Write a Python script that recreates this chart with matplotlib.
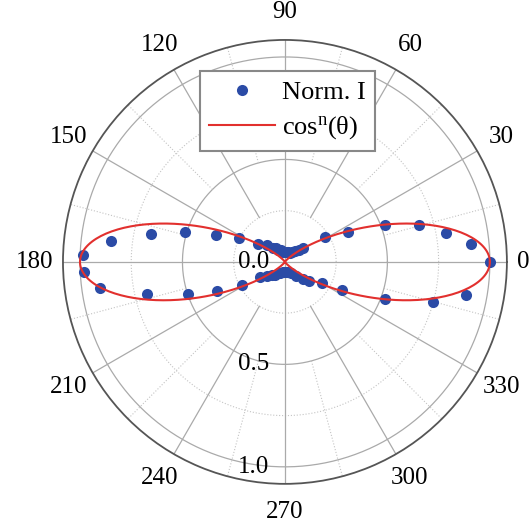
import numpy as np
import matplotlib
matplotlib.use("Agg")
import matplotlib.pyplot as plt
from matplotlib.ticker import FixedLocator
from matplotlib.transforms import offset_copy

plt.rcParams['font.family'] = ['Liberation Serif', 'DejaVu Serif']
plt.rcParams['mathtext.default'] = 'regular'

# measured points (angle in degrees, normalised intensity)
angle_deg = [0, 5.5, 10.1, 15.4, 20.3, 25.5, 32.0, 36.8,
             42, 48, 55, 62, 70, 80, 90, 99, 108, 119, 125, 132, 138,
             146, 152.7, 158.4, 163.3, 168.2, 173.1, 178,
             183, 188, 193, 198.2, 203.3, 208.3, 211.5,
             218, 225, 232, 240, 248, 258, 266, 274, 282, 289, 297, 308.5, 316,
             322, 330, 334.2, 339.7, 344.9, 349.7]
norm_i = [1.0, 0.91, 0.80, 0.68, 0.52, 0.34, 0.23, 0.11,
          0.09, 0.07, 0.06, 0.05, 0.05, 0.05, 0.05, 0.05, 0.06, 0.067, 0.08, 0.09, 0.12,
          0.16, 0.25, 0.36, 0.51, 0.67, 0.857, 0.987,
          0.98, 0.91, 0.69, 0.50, 0.36, 0.24, 0.14,
          0.11, 0.09, 0.08, 0.06, 0.06, 0.05, 0.05, 0.05, 0.05, 0.05, 0.06, 0.09, 0.12,
          0.15, 0.21, 0.31, 0.52, 0.75, 0.90]

n_exp = 10
theta_ticks = list(range(0, 360, 30))
theta_labels = ['0', '30', '60', '90', '120', '150', '180',
                '210', '240', '270', '300', '330']
r_ticks = [0.0, 0.5, 1.0]
r_labels = ['0.0', '0.5', '1.0']

blue = '#2b4ba6'
red = '#e2302e'
rmax = 1.083

fig = plt.figure(figsize=(5.31, 5.32), dpi=100)
ax = fig.add_axes([0.1186, 0.0902, 0.836, 0.835], projection='polar')
ax.set_ylim(0, rmax)
ax.grid(False)

# grid drawn by hand, Origin style
full = np.linspace(0, 2 * np.pi, 500)
for r in [0.5, 1.0]:
    ax.plot(full, np.full_like(full, r), color='#aaaaaa', lw=0.9, zorder=1)
for r in [0.25, 0.75]:
    ax.plot(full, np.full_like(full, r), color='#c4c4c4', lw=0.8, ls=':', zorder=1)
for a in theta_ticks:
    start = 0.0 if a % 90 == 0 else 0.25
    ax.plot([np.deg2rad(a)] * 2, [start, rmax], color='#aaaaaa', lw=0.9, zorder=1)
for a in range(15, 360, 30):
    ax.plot([np.deg2rad(a)] * 2, [0.5, rmax], color='#c4c4c4', lw=0.8, ls=':', zorder=1)

th = np.deg2rad(np.array(angle_deg))
ax.plot(th, norm_i, 'o', color=blue, ms=8, mew=0, zorder=3, label='Norm. I')
curve_t = np.linspace(0, 2 * np.pi, 721)
ax.plot(curve_t, np.abs(np.cos(curve_t)) ** n_exp, color=red, lw=1.5, zorder=4,
        label=r'cos$^{n}$(θ)')

ax.set_xticks(np.deg2rad(theta_ticks))
ax.set_xticklabels([])
ax.xaxis.set_minor_locator(FixedLocator(np.deg2rad(np.arange(15, 360, 30))))
ax.tick_params(axis='x', which='major', direction='inout', length=8, width=1,
               color='#555555')
ax.tick_params(axis='x', which='minor', direction='in', length=5, width=1,
               color='#555555')
ax.set_yticks([])
ax.spines['polar'].set_color('#555555')
ax.spines['polar'].set_linewidth(1.3)

# angle labels placed just outside the rim
for a, lab in zip(theta_ticks, theta_labels):
    d = 16 if a == 0 else 28
    t = np.deg2rad(a)
    tr = offset_copy(ax.transData, fig=fig, x=d * np.cos(t), y=d * np.sin(t),
                     units='dots')
    ax.text(t, rmax, lab, transform=tr, ha='center', va='center', fontsize=18,
            clip_on=False)

trans = offset_copy(ax.transData, fig=fig, x=-16, y=0, units='dots')
for r, lab in zip(r_ticks, r_labels):
    ax.text(1.5 * np.pi, r, lab, transform=trans, ha='right', va='center',
            fontsize=18, zorder=5)

leg = ax.legend(loc='upper left', bbox_to_anchor=(0.377, 0.866),
                bbox_transform=fig.transFigure, fontsize=19, numpoints=1,
                handlelength=2.5, fancybox=False, framealpha=1,
                borderaxespad=0, borderpad=0.35, labelspacing=0.4,
                handletextpad=0.25)
leg.get_frame().set_edgecolor('#888888')
leg.get_frame().set_linewidth(1.5)

fig.savefig('out.png', dpi=100)
